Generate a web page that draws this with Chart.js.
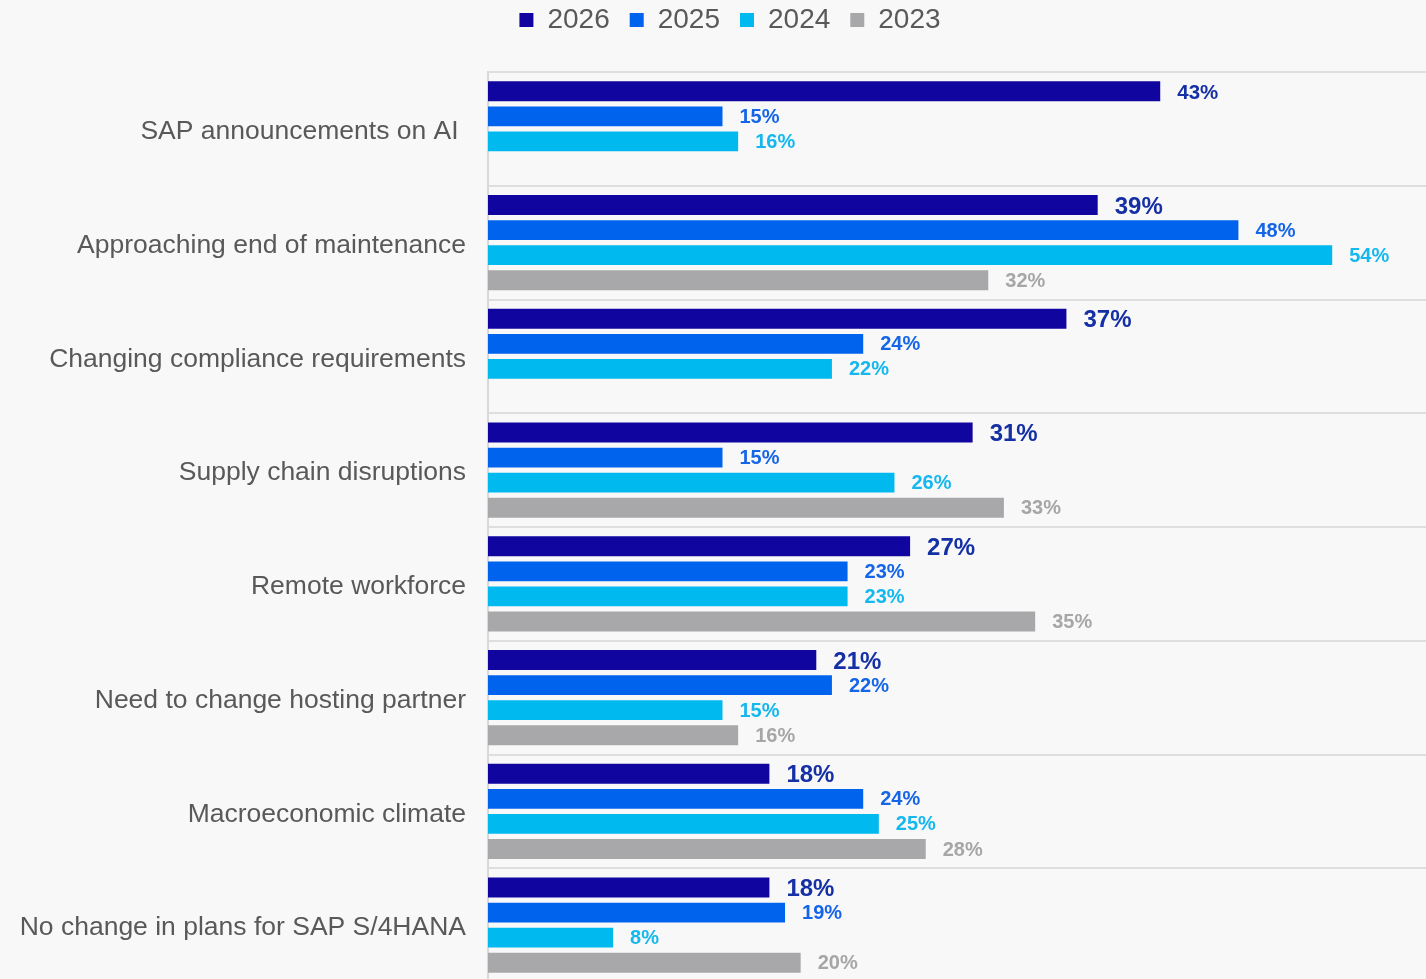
<!DOCTYPE html>
<html>
<head>
<meta charset="utf-8">
<script src="https://cdn.jsdelivr.net/npm/chart.js@4/dist/chart.umd.min.js"></script>
<style>
    html, body { margin: 0; padding: 0; background: #f8f8f8; overflow: hidden; }
    #wrap { position: relative; width: 1426px; height: 979px; overflow: hidden; }
    #chart { position: absolute; left: 0; top: -14px; }
</style>
</head>
<body>
<div id="wrap"><canvas id="chart" width="1426" height="996"></canvas></div>
<script>
// Categories and series
const categories = [
    'SAP announcements on AI ',
    'Approaching end of maintenance',
    'Changing compliance requirements',
    'Supply chain disruptions',
    'Remote workforce',
    'Need to change hosting partner',
    'Macroeconomic climate',
    'No change in plans for SAP S/4HANA'
];
const years = ['2026', '2025', '2024', '2023'];
const values2026 = [43, 39, 37, 31, 27, 21, 18, 18];
const values2025 = [15, 48, 24, 15, 23, 22, 24, 19];
const values2024 = [16, 54, 22, 26, 23, 15, 25, 8];
const values2023 = [null, 32, null, 33, 35, 16, 28, 20];
const xMax = 60;

const FONT = "'Liberation Sans', Arial, sans-serif";
const barColors = ['#10069f', '#0063ee', '#00b9ef', '#a8a8aa'];
const labelColors = ['#1530a5', '#1565e8', '#14b8ee', '#a6a6a6'];

// Percent labels at the end of each bar
const barLabels = {
    id: 'barLabels',
    afterDatasetsDraw(chart) {
        const ctx = chart.ctx;
        ctx.save();
        ctx.textAlign = 'left';
        ctx.textBaseline = 'middle';
        chart.data.datasets.forEach((ds, i) => {
            const meta = chart.getDatasetMeta(i);
            meta.data.forEach((bar, j) => {
                const v = ds.data[j];
                if (v === null || v === undefined) return;
                // the top 2026 label is set a size smaller in the original
                let size = i === 0 ? (v > 40 ? 20.5 : 24) : 20;
                ctx.font = `bold ${size}px ${FONT}`;
                ctx.fillStyle = labelColors[i];
                ctx.fillText(v + '%', bar.x + 17, bar.y + (i === 0 ? 2 : 1));
            });
        });
        ctx.restore();
    }
};

// Fix the legend block height so the plot starts where the original does,
// and let the y labels use the space left of the layout padding
const layoutTweaks = {
    id: 'layoutTweaks',
    beforeInit(chart) {
        const origFit = chart.legend.fit;
        chart.legend.fit = function () {
            origFit.bind(chart.legend)();
            this.height = 86;
        };
    },
    afterLayout(chart) {
        chart.scales.y.left = 0;
    }
};

const datasets = [values2026, values2025, values2024, values2023].map((vals, i) => ({
    label: years[i],
    data: vals,
    backgroundColor: barColors[i],
    borderWidth: 0,
    barPercentage: 0.79,
    categoryPercentage: 0.882
}));

new Chart(document.getElementById('chart'), {
    type: 'bar',
    data: { labels: categories, datasets: datasets },
    options: {
        indexAxis: 'y',
        responsive: false,
        animation: false,
        devicePixelRatio: 1,
        layout: { padding: { left: 34, right: 0, top: 0, bottom: 0 } },
        scales: {
            x: { display: false, min: 0, max: xMax },
            y: {
                grid: { offset: true, color: '#dedede', lineWidth: 2, drawTicks: false },
                border: { color: '#d8d8d8', width: 2 },
                ticks: {
                    color: '#595959',
                    padding: 22,
                    labelOffset: 3,
                    font: { family: FONT, size: 26.5 }
                },
                afterFit(scale) {
                    scale.width = 488 - 34;
                    scale.paddingTop = 0;
                    scale.paddingBottom = 0;
                }
            }
        },
        plugins: {
            legend: {
                position: 'top',
                labels: {
                    boxWidth: 14,
                    boxHeight: 14,
                    padding: 20,
                    color: '#595959',
                    font: { family: FONT, size: 28 }
                }
            },
            tooltip: { enabled: false }
        }
    },
    plugins: [barLabels, layoutTweaks]
});
</script>
</body>
</html>
